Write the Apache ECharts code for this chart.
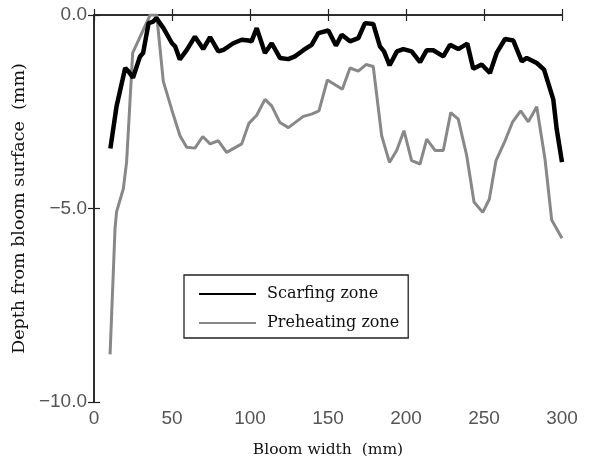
<!doctype html>
<html lang="en">
<head>
    <meta charset="UTF-8" />
    <title>Bloom depth profile</title>
    <style>
        html, body { margin: 0; padding: 0; background: #fff; }
    </style>
</head>
<body>
    <div id="chart" style="width:589px;height:463px"></div>

    <script src="https://cdn.jsdelivr.net/npm/echarts@6/dist/echarts.min.js"></script>
    <script type="text/javascript">
        // data: [bloom width (mm), depth (mm)]
        var scarfing = [
            [10.5, -3.45], [14.5, -2.35], [20, -1.37], [22, -1.45], [25, -1.62], [29.5, -1.07],
            [31.5, -0.98], [35, -0.21], [38, -0.17], [40, -0.08], [44.5, -0.34], [50, -0.73],
            [52, -0.81], [55, -1.15], [59.5, -0.9], [64.7, -0.56], [70, -0.88], [74.4, -0.57],
            [79.7, -0.94], [83, -0.9], [89.3, -0.73], [94.7, -0.64], [99, -0.66], [101, -0.68],
            [104.3, -0.34], [109.6, -0.98], [113.9, -0.73], [119.2, -1.11], [124.6, -1.14],
            [128.8, -1.07], [134.2, -0.91], [139.5, -0.77], [143.8, -0.47], [150.2, -0.4],
            [155.1, -0.79], [158.8, -0.51], [164.1, -0.68], [169.4, -0.6], [173.7, -0.21],
            [179, -0.23], [183.3, -0.81], [185.9, -0.94], [189.5, -1.3], [194.2, -0.94],
            [198.3, -0.88], [203.6, -0.94], [209, -1.22], [213.3, -0.91], [217.5, -0.91],
            [223.9, -1.07], [228.2, -0.77], [233.5, -0.88], [239.3, -0.74], [243.1, -1.39],
            [248.5, -1.28], [253.8, -1.5], [258.1, -0.98], [263.5, -0.62], [268.8, -0.66],
            [274.2, -1.2], [277.4, -1.11], [283.8, -1.24], [288.5, -1.41], [294.4, -2.18],
            [296.6, -2.95], [300, -3.8]
        ];
        var preheating = [
            [10.3, -8.77], [13.5, -5.5], [14.5, -5.08], [18.8, -4.49], [20.9, -3.8], [24.8, -0.98],
            [36, 0], [40.2, 0], [44.4, -1.71], [49.8, -2.44], [55.1, -3.12], [59.4, -3.42],
            [64.7, -3.44], [69.7, -3.14], [74.4, -3.33], [79.7, -3.25], [85, -3.55], [94.7, -3.33],
            [99.3, -2.8], [104.3, -2.59], [109.6, -2.18], [113.9, -2.35], [119.2, -2.78],
            [124.6, -2.91], [134.2, -2.62], [139.5, -2.56], [144.2, -2.48], [149.6, -1.68],
            [159.2, -1.92], [164.1, -1.37], [169.4, -1.45], [174.4, -1.28], [179, -1.33],
            [184.4, -3.12], [189.4, -3.81], [194, -3.5], [198.7, -2.99], [203.6, -3.76],
            [209, -3.85], [213.3, -3.21], [218.6, -3.5], [223.9, -3.5], [228.7, -2.52],
            [233.5, -2.69], [238.9, -3.63], [243.6, -4.83], [249.2, -5.1], [253.4, -4.76],
            [257.7, -3.76], [263.5, -3.25], [268.4, -2.76], [273.5, -2.48], [278.4, -2.76],
            [283.8, -2.37], [289.1, -3.72], [293.4, -5.3], [300, -5.77]
        ];
        var yTickLabels = ['\u221210.0', '\u22125.0', '0.0'];
        var seriesNames = ['Scarfing zone', 'Preheating zone'];

        var chart = echarts.init(document.getElementById('chart'));

        var axisLine = { show: true, lineStyle: { color: '#222', width: 1.5 } };
        var tickIn = { show: true, inside: true, length: 6, lineStyle: { color: '#222', width: 1.2 } };
        var labelFont = { fontFamily: 'Liberation Sans', fontSize: 19, color: '#555' };

        var option = {
            animation: false,
            grid: { left: 94, right: 27, top: 15, bottom: 58 },
            legend: {
                orient: 'vertical',
                left: 184,
                top: 275,
                padding: [11, 9, 7, 14],
                itemWidth: 57,
                itemHeight: 14,
                itemGap: 13,
                borderColor: '#222',
                borderWidth: 1.3,
                itemStyle: { opacity: 0 },
                data: seriesNames,
                textStyle: { fontFamily: 'DejaVu Serif', fontSize: 16, color: '#111', padding: [0, 0, 0, 6] }
            },
            xAxis: [{
                type: 'value', min: 0, max: 300, interval: 50,
                name: 'Bloom width  (mm)', nameLocation: 'middle', nameGap: 40,
                nameTextStyle: { fontFamily: 'DejaVu Serif', fontSize: 15.5, color: '#111' },
                axisLine: axisLine, axisTick: tickIn, splitLine: { show: false },
                axisLabel: Object.assign({ margin: 7 }, labelFont)
            }, {
                type: 'value', min: 0, max: 300, interval: 50, position: 'top',
                axisLine: axisLine, axisTick: tickIn, splitLine: { show: false },
                axisLabel: { show: false }
            }],
            yAxis: [{
                type: 'value', min: -10, max: 0, interval: 5,
                name: 'Depth from bloom surface  (mm)', nameLocation: 'middle', nameGap: 66,
                nameTextStyle: { fontFamily: 'DejaVu Serif', fontSize: 17.5, color: '#111' },
                axisLine: axisLine, axisTick: tickIn, splitLine: { show: false },
                axisLabel: Object.assign({
                    margin: 7,
                    formatter: function (v) { return yTickLabels[Math.round((v + 10) / 5)]; }
                }, labelFont)
            }, {
                type: 'value', min: -10, max: 0, interval: 5, position: 'right',
                axisLine: axisLine, axisTick: tickIn, splitLine: { show: false },
                axisLabel: { show: false }
            }],
            series: [{
                name: seriesNames[0],
                type: 'line',
                data: scarfing,
                symbol: 'none',
                lineStyle: { color: '#000', width: 4.5 },
                itemStyle: { color: '#000' },
                z: 3
            }, {
                name: seriesNames[1],
                type: 'line',
                data: preheating,
                symbol: 'none',
                lineStyle: { color: '#888', width: 3 },
                itemStyle: { color: '#888' },
                z: 2
            }]
        };

        chart.setOption(option);
    </script>
</body>
</html>
